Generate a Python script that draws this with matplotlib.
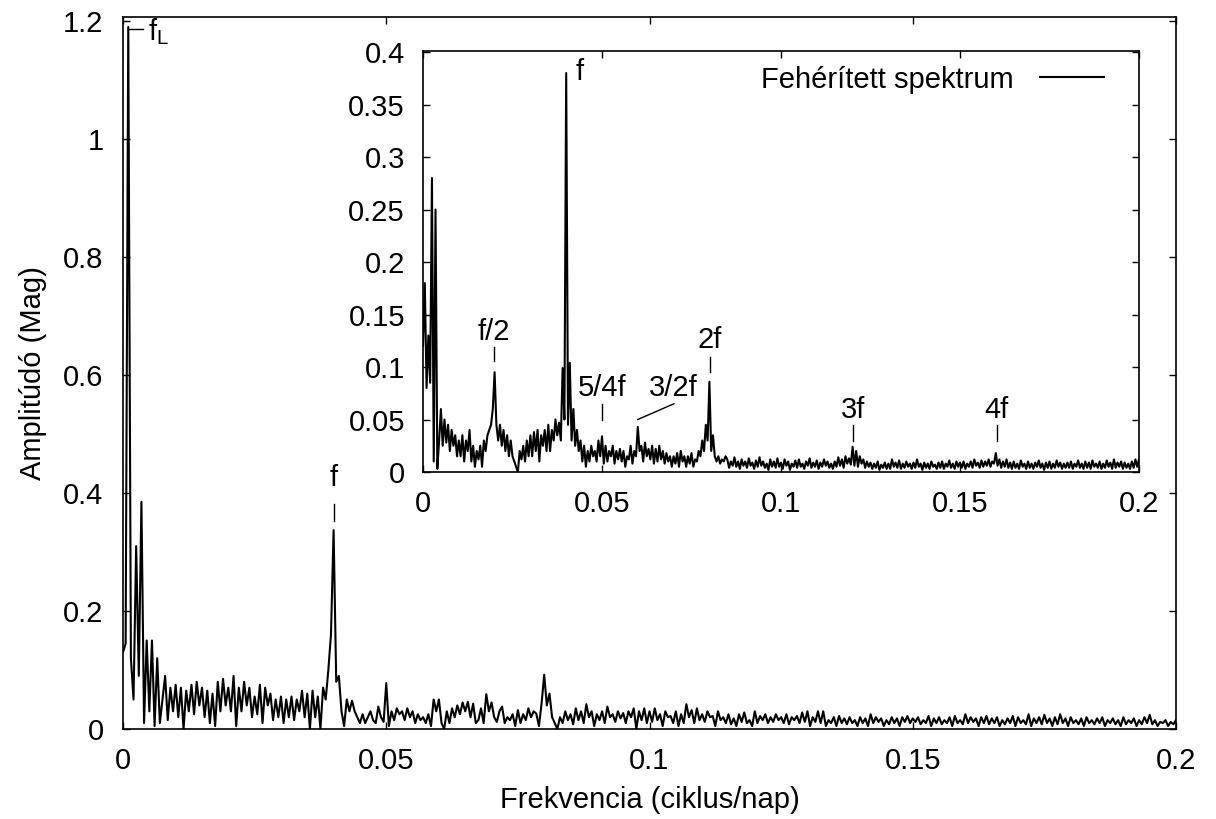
import numpy as np
import matplotlib
matplotlib.use('Agg')
import matplotlib.pyplot as plt

plt.rcParams['font.family'] = ['Liberation Sans', 'DejaVu Sans']
plt.rcParams['mathtext.fontset'] = 'custom'
plt.rcParams['mathtext.rm'] = 'Liberation Sans'
plt.rcParams['mathtext.it'] = 'Liberation Sans'

# frekvencia lépésköz (ciklus/nap)
step = 0.0005

# eredeti spektrum amplitúdók (Mag), 0 .. 0.2, soronként 0.005
raw_amp = [
    0.13, 0.145, 1.19, 0.12, 0.05, 0.31, 0.09, 0.385, 0.01, 0.15,
    0.03, 0.15, 0.005, 0.12, 0.01, 0.05, 0.09, 0.015, 0.07, 0.03,
    0.075, 0.02, 0.07, 0.0, 0.065, 0.03, 0.075, 0.025, 0.08, 0.04,
    0.07, 0.02, 0.065, 0.01, 0.06, 0.005, 0.08, 0.03, 0.085, 0.04,
    0.07, 0.03, 0.09, 0.005, 0.07, 0.03, 0.08, 0.04, 0.07, 0.02,
    0.055, 0.025, 0.075, 0.01, 0.07, 0.04, 0.06, 0.015, 0.05, 0.02,
    0.055, 0.01, 0.05, 0.02, 0.055, 0.015, 0.05, 0.03, 0.065, 0.02,
    0.06, 0.0, 0.065, 0.02, 0.055, 0.0, 0.07, 0.05, 0.10, 0.16,
    0.337, 0.08, 0.09, 0.03, 0.005, 0.05, 0.03, 0.048, 0.03, 0.02,
    0.01, 0.025, 0.01, 0.02, 0.03, 0.015, 0.01, 0.038, 0.02, 0.012,
    0.078, 0.005, 0.03, 0.015, 0.035, 0.025, 0.03, 0.015, 0.035, 0.02,
    0.03, 0.01, 0.025, 0.015, 0.02, 0.01, 0.025, 0.005, 0.05, 0.03,
    0.05, 0.01, 0.0, 0.03, 0.01, 0.035, 0.02, 0.04, 0.025, 0.045,
    0.03, 0.046, 0.02, 0.043, 0.01, 0.015, 0.035, 0.01, 0.059, 0.03,
    0.045, 0.02, 0.012, 0.03, 0.038, 0.01, 0.02, 0.015, 0.025, 0.005,
    0.032, 0.01, 0.025, 0.015, 0.035, 0.02, 0.03, 0.026, 0.005, 0.043,
    0.092, 0.04, 0.06, 0.02, 0.01, 0.0, 0.02, 0.01, 0.03, 0.015,
    0.025, 0.008, 0.035, 0.015, 0.03, 0.01, 0.042, 0.02, 0.03, 0.005,
    0.025, 0.015, 0.03, 0.01, 0.038, 0.02, 0.025, 0.012, 0.03, 0.018,
    0.027, 0.01, 0.03, 0.02, 0.035, 0.0, 0.03, 0.015, 0.035, 0.01,
    0.03, 0.012, 0.035, 0.015, 0.025, 0.005, 0.03, 0.02, 0.022, 0.01,
    0.03, 0.005, 0.025, 0.01, 0.042, 0.02, 0.032, 0.01, 0.035, 0.015,
    0.025, 0.012, 0.03, 0.02, 0.022, 0.005, 0.03, 0.015, 0.02, 0.01,
    0.025, 0.008, 0.018, 0.005, 0.025, 0.012, 0.028, 0.01, 0.015, 0.005,
    0.03, 0.01, 0.022, 0.015, 0.025, 0.01, 0.02, 0.012, 0.025, 0.015,
    0.02, 0.01, 0.025, 0.008, 0.02, 0.015, 0.022, 0.01, 0.028, 0.012,
    0.03, 0.005, 0.02, 0.012, 0.03, 0.01, 0.03, 0.005, 0.015, 0.01,
    0.02, 0.005, 0.022, 0.01, 0.018, 0.008, 0.02, 0.01, 0.015, 0.005,
    0.02, 0.01, 0.018, 0.005, 0.025, 0.01, 0.02, 0.012, 0.018, 0.005,
    0.015, 0.008, 0.02, 0.01, 0.018, 0.005, 0.02, 0.012, 0.022, 0.01,
    0.018, 0.012, 0.02, 0.008, 0.015, 0.01, 0.022, 0.005, 0.018, 0.01,
    0.02, 0.008, 0.015, 0.01, 0.02, 0.005, 0.022, 0.01, 0.015, 0.008,
    0.025, 0.01, 0.02, 0.012, 0.018, 0.005, 0.02, 0.01, 0.022, 0.008,
    0.018, 0.01, 0.02, 0.005, 0.015, 0.008, 0.018, 0.01, 0.022, 0.005,
    0.02, 0.01, 0.015, 0.008, 0.025, 0.005, 0.018, 0.01, 0.02, 0.008,
    0.024, 0.01, 0.018, 0.005, 0.02, 0.008, 0.025, 0.01, 0.018, 0.005,
    0.02, 0.01, 0.015, 0.008, 0.018, 0.005, 0.02, 0.01, 0.015, 0.008,
    0.018, 0.01, 0.02, 0.005, 0.015, 0.01, 0.018, 0.008, 0.015, 0.005,
    0.02, 0.008, 0.015, 0.01, 0.018, 0.005, 0.015, 0.008, 0.02, 0.01,
    0.024, 0.008, 0.015, 0.005, 0.012, 0.01, 0.015, 0.005, 0.012, 0.008,
    0.015,
]

# fehérített spektrum (beágyazott ábra)
white_amp = [
    0.12, 0.18, 0.08, 0.13, 0.085, 0.28, 0.01, 0.25, 0.003, 0.03,
    0.06, 0.025, 0.05, 0.028, 0.045, 0.02, 0.04, 0.025, 0.035, 0.015,
    0.03, 0.015, 0.035, 0.01, 0.03, 0.02, 0.04, 0.01, 0.025, 0.005,
    0.02, 0.012, 0.025, 0.005, 0.03, 0.02, 0.035, 0.04, 0.045, 0.06,
    0.095, 0.045, 0.03, 0.045, 0.025, 0.04, 0.02, 0.035, 0.015, 0.03,
    0.015, 0.01, 0.005, 0.0, 0.02, 0.012, 0.025, 0.01, 0.03, 0.015,
    0.035, 0.015, 0.038, 0.02, 0.04, 0.01, 0.035, 0.025, 0.04, 0.02,
    0.045, 0.02, 0.04, 0.03, 0.05, 0.035, 0.047, 0.03, 0.099, 0.05,
    0.38, 0.045, 0.104, 0.03, 0.06, 0.025, 0.04, 0.02, 0.03, 0.01,
    0.025, 0.005, 0.02, 0.01, 0.025, 0.015, 0.02, 0.01, 0.03, 0.015,
    0.034, 0.008, 0.025, 0.01, 0.02, 0.015, 0.025, 0.008, 0.02, 0.012,
    0.022, 0.01, 0.02, 0.005, 0.015, 0.012, 0.025, 0.008, 0.02, 0.015,
    0.043, 0.02, 0.025, 0.01, 0.028, 0.015, 0.022, 0.012, 0.025, 0.008,
    0.022, 0.01, 0.025, 0.012, 0.02, 0.008, 0.018, 0.01, 0.015, 0.005,
    0.015, 0.008, 0.018, 0.005, 0.02, 0.01, 0.015, 0.005, 0.015, 0.008,
    0.018, 0.005, 0.012, 0.01, 0.02, 0.015, 0.03, 0.02, 0.045, 0.03,
    0.086, 0.02, 0.035, 0.015, 0.01, 0.015, 0.008, 0.012, 0.01, 0.015,
    0.012, 0.004, 0.01, 0.006, 0.014, 0.005, 0.01, 0.003, 0.012, 0.006,
    0.01, 0.004, 0.013, 0.006, 0.009, 0.003, 0.011, 0.005, 0.014, 0.006,
    0.01, 0.004, 0.008, 0.002, 0.012, 0.005, 0.01, 0.004, 0.013, 0.005,
    0.009, 0.003, 0.012, 0.006, 0.01, 0.002, 0.008, 0.005, 0.011, 0.004,
    0.012, 0.005, 0.008, 0.003, 0.01, 0.006, 0.013, 0.004, 0.009, 0.005,
    0.011, 0.003, 0.009, 0.005, 0.012, 0.006, 0.01, 0.004, 0.008, 0.003,
    0.01, 0.005, 0.014, 0.006, 0.012, 0.004, 0.015, 0.008, 0.013, 0.007,
    0.024, 0.006, 0.02, 0.005, 0.015, 0.008, 0.012, 0.004, 0.01, 0.005,
    0.009, 0.003, 0.008, 0.004, 0.01, 0.002, 0.007, 0.004, 0.009, 0.003,
    0.008, 0.003, 0.012, 0.005, 0.009, 0.004, 0.011, 0.003, 0.008, 0.004,
    0.01, 0.005, 0.008, 0.003, 0.009, 0.004, 0.012, 0.005, 0.008, 0.002,
    0.009, 0.004, 0.008, 0.003, 0.01, 0.005, 0.007, 0.003, 0.009, 0.004,
    0.01, 0.003, 0.008, 0.005, 0.011, 0.004, 0.008, 0.003, 0.01, 0.005,
    0.009, 0.004, 0.01, 0.003, 0.008, 0.005, 0.01, 0.004, 0.012, 0.006,
    0.009, 0.004, 0.011, 0.005, 0.01, 0.006, 0.012, 0.005, 0.01, 0.008,
    0.018, 0.006, 0.012, 0.004, 0.01, 0.005, 0.012, 0.004, 0.009, 0.003,
    0.01, 0.004, 0.008, 0.003, 0.011, 0.005, 0.008, 0.003, 0.01, 0.004,
    0.008, 0.003, 0.009, 0.005, 0.011, 0.004, 0.008, 0.002, 0.009, 0.004,
    0.01, 0.003, 0.008, 0.004, 0.011, 0.005, 0.009, 0.003, 0.008, 0.004,
    0.009, 0.004, 0.01, 0.003, 0.008, 0.005, 0.011, 0.004, 0.008, 0.003,
    0.01, 0.004, 0.009, 0.003, 0.011, 0.005, 0.008, 0.004, 0.01, 0.003,
    0.008, 0.004, 0.011, 0.005, 0.009, 0.003, 0.012, 0.004, 0.009, 0.005,
    0.01, 0.003, 0.009, 0.004, 0.008, 0.003, 0.01, 0.004, 0.012, 0.005,
    0.012,
]

raw_freq = np.arange(len(raw_amp)) * step
white_freq = np.arange(len(white_amp)) * step

main_xticks = [0, 0.05, 0.1, 0.15, 0.2]
main_xlabels = ['0', '0.05', '0.1', '0.15', '0.2']
main_yticks = [0, 0.2, 0.4, 0.6, 0.8, 1.0, 1.2]
main_ylabels = ['0', '0.2', '0.4', '0.6', '0.8', '1', '1.2']
ins_yticks = [0, 0.05, 0.1, 0.15, 0.2, 0.25, 0.3, 0.35, 0.4]
ins_ylabels = ['0', '0.05', '0.1', '0.15', '0.2', '0.25', '0.3', '0.35', '0.4']

# csúcsok jelölése: (felirat, szöveg x, szöveg y, vonal x1, y1, x2, y2)
ins_marks = [
    ('f/2', 0.0198, 0.133, 0.0198, 0.119, 0.0198, 0.106),
    ('5/4f', 0.050, 0.080, 0.050, 0.065, 0.050, 0.050),
    ('3/2f', 0.0698, 0.080, 0.060, 0.050, 0.0701, 0.065),
    ('2f', 0.0802, 0.126, 0.0802, 0.110, 0.0802, 0.095),
    ('3f', 0.120, 0.059, 0.120, 0.045, 0.120, 0.030),
    ('4f', 0.1603, 0.059, 0.1603, 0.045, 0.1603, 0.030),
]

FS = 21

fig = plt.figure(figsize=(12.16, 8.19), dpi=100)
ax = fig.add_axes([123 / 1216, 1 - 729 / 819, (1176 - 123) / 1216, (729 - 17) / 819])
ax.plot(raw_freq, raw_amp, color='black', lw=1.5)
ax.set_xlim(0, 0.2)
ax.set_ylim(0, 1.207)
ax.set_xticks(main_xticks)
ax.set_xticklabels(main_xlabels)
ax.set_yticks(main_yticks)
ax.set_yticklabels(main_ylabels)
ax.tick_params(direction='in', length=5, width=1, top=True, right=True,
               labelsize=FS)
ax.tick_params(axis='y', pad=14)
ax.tick_params(axis='x', pad=13)
for s in ax.spines.values():
    s.set_linewidth(1.2)
ax.set_xlabel('Frekvencia (ciklus/nap)', fontsize=FS, labelpad=8)
ax.set_ylabel('Amplitúdó (Mag)', fontsize=FS, labelpad=12)

# f_L és f jelölése
ax.plot([0.00095, 0.0038], [1.186, 1.186], color='black', lw=1)
ax.text(0.0047, 1.183, r'$\mathregular{f_L}$', fontsize=FS, ha='left', va='center')
ax.plot([0.040, 0.040], [0.381, 0.353], color='black', lw=1)
ax.text(0.040, 0.425, 'f', fontsize=FS, ha='center', va='center')

# beágyazott ábra
ins = fig.add_axes([423 / 1216, 1 - 472 / 819, (1139 - 423) / 1216, (472 - 51) / 819])
ins.set_facecolor('white')
ins.plot(white_freq, white_amp, color='black', lw=1.5, label='Fehérített spektrum')
ins.set_xlim(0, 0.2)
ins.set_ylim(0, 0.401)
ins.set_xticks(main_xticks)
ins.set_xticklabels(main_xlabels)
ins.set_yticks(ins_yticks)
ins.set_yticklabels(ins_ylabels)
ins.tick_params(direction='in', length=5, width=1, top=True, right=True,
                labelsize=FS, pad=13)
for s in ins.spines.values():
    s.set_linewidth(1.2)

ins.text(0.0439, 0.381, 'f', fontsize=FS, ha='center', va='center')
for lab, tx, ty, x1, y1, x2, y2 in ins_marks:
    ins.text(tx, ty, lab, fontsize=FS, ha='center', va='center')
    ins.plot([x1, x2], [y1, y2], color='black', lw=1)

ins.legend(loc='upper right', frameon=False, markerfirst=False, fontsize=FS,
           handlelength=2.2, handletextpad=0.9, borderaxespad=0.1,
           bbox_to_anchor=(0.972, 1.0))

fig.savefig('out.png', dpi=100)
